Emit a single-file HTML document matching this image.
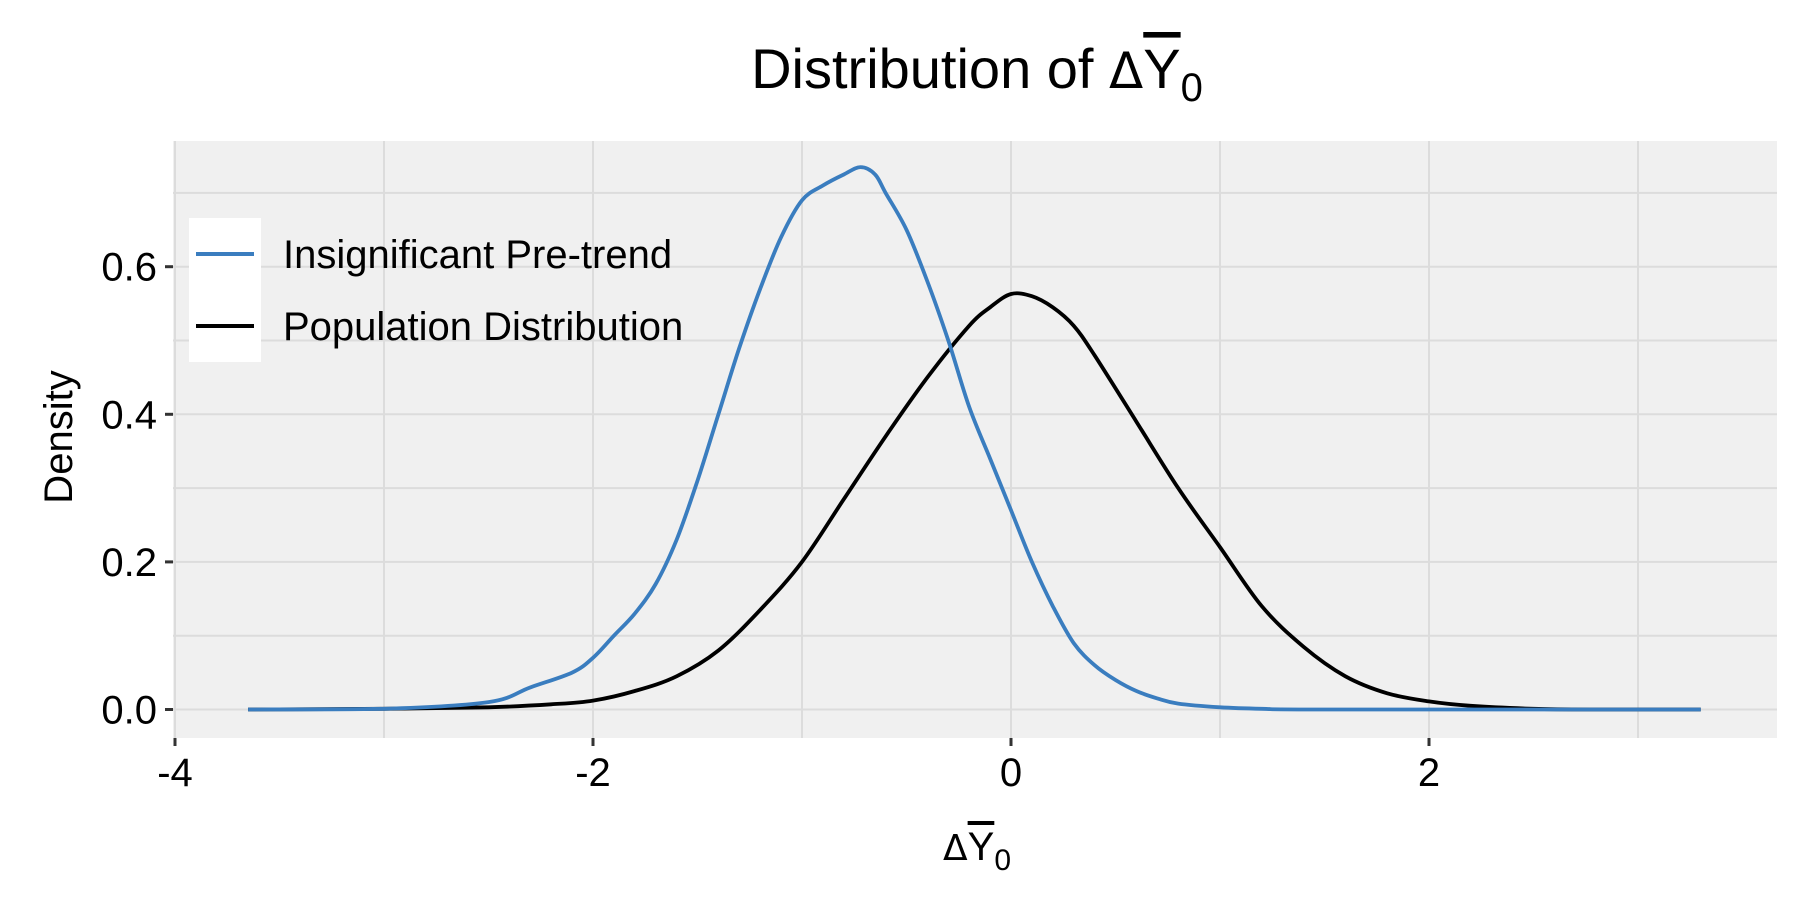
<!DOCTYPE html>
<html><head><meta charset="utf-8"><style>
body{margin:0;background:#fff}
svg text{font-family:"Liberation Sans",Arial,sans-serif}
</style></head><body>
<svg id="chart" width="1800" height="900" xmlns="http://www.w3.org/2000/svg">
<rect x="0" y="0" width="1800" height="900" fill="#fff"/>
<rect x="173" y="141" width="1604" height="597" fill="#f0f0f0"/>
<g id="grid"></g><g id="series"></g><g id="axes"></g>
<text x="977" y="88" font-size="56" text-anchor="middle">Distribution of <tspan font-family="DejaVu Sans" font-size="50">Δ</tspan><tspan text-decoration="overline">Y</tspan><tspan font-size="40" dy="13">0</tspan></text>
<text x="977" y="860" font-size="40" text-anchor="middle"><tspan font-family="DejaVu Sans" font-size="36">Δ</tspan><tspan text-decoration="overline">Y</tspan><tspan font-size="30" dy="10">0</tspan></text>
<text transform="translate(72,437) rotate(-90)" font-size="40" text-anchor="middle">Density</text>
<g>
<rect x="189" y="218" width="72" height="144" fill="#fff"/>
<line x1="196" y1="254" x2="254" y2="254" stroke="#3a7dbf" stroke-width="4"/>
<line x1="196" y1="326" x2="254" y2="326" stroke="#000" stroke-width="4"/>
<text x="283" y="268" font-size="40">Insignificant Pre-trend</text>
<text x="283" y="340" font-size="40">Population Distribution</text>
</g>
</svg>
<script>
const xTicks=[-4,-2,0,2];
const xMinor=[-3,-1,1,3];
const yTicks=[0,0.2,0.4,0.6];
const yMinor=[0.1,0.3,0.5,0.7];
const yTickLabels=["0.0","0.2","0.4","0.6"];
const blueX=[-3.65,-3,-2.5,-2.3,-2.1,-2,-1.9,-1.8,-1.7,-1.6,-1.5,-1.4,-1.3,-1.2,-1.1,-1.0,-0.9,-0.8,-0.72,-0.65,-0.6,-0.5,-0.4,-0.3,-0.2,-0.1,0,0.1,0.2,0.3,0.4,0.5,0.6,0.7,0.8,1.0,1.2,1.5,3.3];
const blueY=[0,0.001,0.01,0.03,0.05,0.07,0.1,0.13,0.17,0.23,0.31,0.40,0.49,0.57,0.64,0.69,0.71,0.725,0.735,0.725,0.70,0.65,0.58,0.50,0.41,0.34,0.27,0.20,0.14,0.09,0.06,0.04,0.025,0.015,0.008,0.003,0.001,0,0];
const blackX=[-3.65,-3,-2.5,-2.2,-2,-1.8,-1.6,-1.4,-1.2,-1.0,-0.8,-0.6,-0.4,-0.2,-0.1,0,0.1,0.2,0.3,0.4,0.6,0.8,1.0,1.2,1.4,1.6,1.8,2.0,2.2,2.5,2.8,3.3];
const blackY=[0,0.001,0.003,0.007,0.012,0.025,0.045,0.08,0.135,0.2,0.285,0.37,0.45,0.52,0.545,0.563,0.56,0.545,0.52,0.48,0.39,0.30,0.22,0.14,0.085,0.045,0.022,0.011,0.005,0.001,0,0];
const L=173,R=1777,T=141,B=738;
const sx=v=>1011+v*209;
const sy=v=>709.5-v*738;
const NS="http://www.w3.org/2000/svg";
function mk(tag,attrs,parent){const e=document.createElementNS(NS,tag);for(const k in attrs)e.setAttribute(k,attrs[k]);parent.appendChild(e);return e;}
const grid=document.getElementById('grid'),axes=document.getElementById('axes'),series=document.getElementById('series');
xMinor.concat(xTicks).forEach(v=>{const l=mk('line',{x1:sx(v),x2:sx(v),y1:T,y2:B,stroke:'#dcdcdc','stroke-width':2},grid);

});
yMinor.concat(yTicks).forEach(v=>{const l=mk('line',{x1:L,x2:R,y1:sy(v),y2:sy(v),stroke:'#dcdcdc','stroke-width':2},grid);

});
xTicks.forEach(v=>{const t=mk('line',{x1:sx(v),x2:sx(v),y1:B,y2:B+8,stroke:'#333','stroke-width':3},axes);


const tx=mk('text',{x:sx(v),y:B+48,'font-size':40,'text-anchor':'middle'},axes);tx.textContent=String(v);

});
yTicks.forEach((v,i)=>{const t=mk('line',{x1:L-8,x2:L,y1:sy(v),y2:sy(v),stroke:'#333','stroke-width':3},axes);


const tx=mk('text',{x:L-16,y:sy(v)+14,'font-size':40,'text-anchor':'end'},axes);tx.textContent=yTickLabels[i];

});
function line(xs,ys,color,name){
const P=xs.map((x,i)=>[sx(x),sy(ys[i])]);
let d='M'+P[0][0].toFixed(1)+','+P[0][1].toFixed(1);
for(let i=0;i<P.length-1;i++){const p0=P[i-1]||P[i],p1=P[i],p2=P[i+1],p3=P[i+2]||P[i+1];
const c1=[p1[0]+(p2[0]-p0[0])/6,p1[1]+(p2[1]-p0[1])/6],c2=[p2[0]-(p3[0]-p1[0])/6,p2[1]-(p3[1]-p1[1])/6];
c1[1]=Math.min(c1[1],sy(0));c2[1]=Math.min(c2[1],sy(0));
d+='C'+c1.map(v=>v.toFixed(1))+' '+c2.map(v=>v.toFixed(1))+' '+p2.map(v=>v.toFixed(1));}
const p=mk('path',{d:d,fill:'none',stroke:color,'stroke-width':3.8,'stroke-linejoin':'round'},series);

}
line(blackX,blackY,'#000','population-density-line');
line(blueX,blueY,'#3a7dbf','insignificant-pretrend-density-line');
</script>
</body></html>
